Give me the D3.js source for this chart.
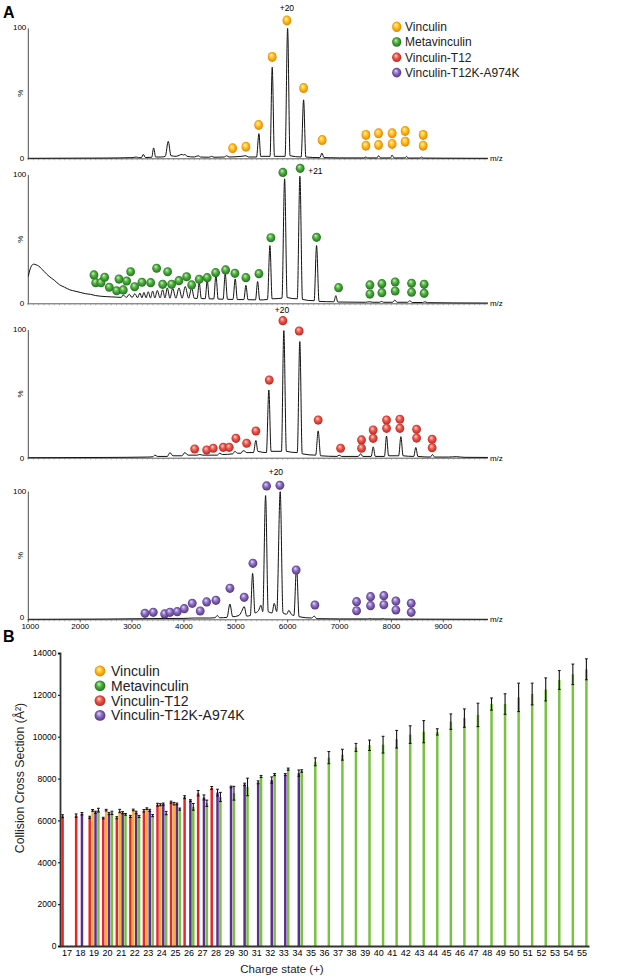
<!DOCTYPE html>
<html><head><meta charset="utf-8">
<script src="https://cdn.jsdelivr.net/npm/d3@7"></script>
<style>body{margin:0;background:#fff}svg{display:block;font-family:"Liberation Sans",Arial,sans-serif}</style>
</head><body><svg id="c" width="625" height="978"></svg>
<script>
// ---------------- DATA ----------------
const seriesNames = ['Vinculin','Metavinculin','Vinculin-T12','Vinculin-T12K-A974K'];
const mzTicks = [1000,2000,3000,4000,5000,6000,7000,8000,9000];
const chargeLabels = ['+20','+21','+20','+20'];

// spectra: [m/z, relative intensity %]
const specVinculin = [[1000,0],[2500,0.2],[3000,0.5],[3080,1],[3120,0.5],[3180,0.5],[3216,3],[3260,0.6],[3380,0.8],[3416,8],[3455,1],[3560,1],[3640,1.5],[3698,13],[3750,2],[3850,1.5],[3920,2.5],[3962,3],[3990,2.5],[4020,3],[4060,1.5],[4200,1],[4276,2],[4320,1],[4480,0.8],[4534,1.5],[4580,0.8],[4780,1],[4823,2],[4870,1],[5100,1.5],[5160,1.8],[5195,2],[5240,1],[5400,1],[5446,19],[5480,1.5],[5660,1.5],[5702,70],[5745,1.5],[5950,1.5],[5999,100],[6045,2],[6260,1],[6307,45],[6350,1],[6620,0.5],[6660,4],[6700,0.5],[7000,0.3],[7470,0.3],[7508,1],[7540,0.3],[7720,0.3],[7752,2],[7790,0.3],[7980,0.3],[8014,2.5],[8050,0.3],[8260,0.3],[8292,1.5],[8320,0.2],[8550,0.2],[8581,1],[8610,0.2],[9000,0.1],[9860,0]];
const specMeta = [[1000,21],[1030,26],[1060,29],[1100,30.5],[1150,30],[1200,29],[1300,25],[1400,21],[1500,18],[1600,14.5],[1700,12.5],[1800,10.5],[1900,9.5],[2000,8.5],[2100,7.5],[2200,7],[2300,6],[2400,5.5],[2500,5.2],[2600,5],[2700,4.8],[2790,4.6],[2831,6.5],[2890,4.5],[2946,7],[3000,4.5],[3056,7.5],[3105,4.3],[3152,8],[3190,4.3],[3230,8.5],[3270,4.3],[3312,9],[3355,4.2],[3397,9.5],[3440,4.2],[3486,10],[3540,4.2],[3590,10.5],[3635,4.2],[3679,12],[3730,4],[3783,11.5],[3845,4],[3904,12],[3965,4],[4025,13],[4090,4],[4149,12],[4200,3.9],[4255,3.8],[4295,16],[4335,3.7],[4410,3.6],[4449,18],[4490,3.5],[4575,3.4],[4617,22],[4660,3.3],[4755,3.2],[4796,23],[4840,3.1],[4945,3],[4989,19],[5030,2.9],[5155,2.9],[5195,14],[5235,2.8],[5380,2.7],[5421,17],[5460,2.6],[5610,3],[5658,45],[5700,3.5],[5890,4],[5941,97],[5990,4.5],[6185,3.5],[6236,99],[6285,3],[6510,2],[6557,45],[6605,1.5],[6890,1.2],[6929,6],[6965,1],[7500,0.8],[7571,1.2],[7640,0.8],[7770,0.8],[7810,1.5],[7850,0.8],[8020,0.8],[8066,2.5],[8110,0.8],[8310,0.8],[8355,2],[8400,0.6],[8600,0.6],[8644,1.2],[8690,0.5],[9200,0.3],[9860,0.2]];
const specT12 = [[1000,0],[2500,0.2],[3300,0.5],[3400,0.8],[3441,2],[3490,1],[3680,1],[3730,4],[3790,1.5],[3960,1.5],[4019,4],[4080,2],[4250,2],[4308,2.5],[4360,2],[4640,2],[4694,3.5],[4740,2.5],[4940,3],[4983,5],[5030,3.5],[5100,3.5],[5140,5.5],[5175,5],[5210,4],[5340,4],[5387,13.5],[5425,5],[5590,4],[5637,53],[5680,5],[5880,5],[5926,99.5],[5975,5],[6185,4],[6234,91],[6280,3],[6540,2],[6588,21],[6635,1.5],[6950,1],[6993,2],[7040,1],[7360,1],[7405,3],[7450,1],[7610,1],[7649,8.5],[7690,1],[7865,1],[7906,17],[7945,1.5],[8140,1.5],[8182,16.5],[8225,1.5],[8430,1],[8470,8],[8510,1],[8750,0.5],[8792,2.5],[8830,0.5],[9100,0.5],[9250,0.8],[9400,0.3],[9860,0.2]];
const specT12K = [[1000,0],[2500,0.2],[3000,0.4],[3500,0.6],[4000,0.7],[4200,1],[4500,1],[4600,1.2],[4643,3],[4690,1.2],[4830,1.5],[4886,12],[4940,2],[5060,3],[5110,6],[5162,10],[5210,2.5],[5280,3],[5324,36],[5370,5],[5440,7],[5484,11],[5520,6],[5574,97],[5625,6],[5700,5],[5740,12.5],[5790,6],[5856,100],[5910,5],[5980,4],[6023,7],[6070,4],[6120,3],[6171,41],[6220,2],[6460,1],[6511,2.5],[6560,0.5],[7000,0.3],[7540,0.3],[7584,0.6],[7620,0.3],[7800,0.3],[7835,0.6],[7870,0.3],[8000,0.2],[9860,0]];

// charge-state markers: [m/z, %]
const ballsVinculin = [[4939,7.7],[5195,8.9],[5440,25.6],[5702,78],[5985,106],[6307,54],[6665,14],[7508,18],[7508,9.7],[7752,19.2],[7752,10.2],[8014,19.2],[8014,11],[8265,21],[8265,12.8],[8612,18],[8612,9.7]];
const ballsMeta = [[2266,22.1],[2299,16.1],[2401,16.1],[2472,20.3],[2561,12.5],[2703,9.8],[2748,18.9],[2831,10.4],[2896,17.4],[2973,24.6],[3050,12.9],[3191,16.4],[3359,16.1],[3474,27.3],[3590,14.8],[3686,24.6],[3763,14.8],[3904,17.6],[4052,20.7],[4149,14.3],[4295,18.7],[4449,20],[4611,23.9],[4804,26],[4983,23.4],[5195,20],[5446,23.1],[5677,51.1],[5908,102],[6241,105.2],[6557,51.4],[6981,12.2],[7585,14.3],[7585,7.2],[7816,15.3],[7816,8.3],[8072,16.6],[8072,9.6],[8388,15.6],[8388,8.6],[8631,14.8],[8631,7.8]];
const ballsT12 = [[4207,6.8],[4438,6],[4565,7.4],[4758,8.1],[4873,8.1],[5002,15.2],[5209,11.3],[5388,20.9],[5644,60.8],[5908,107.3],[6222,99.2],[6588,29.5],[7020,7.4],[7424,13.9],[7424,7.4],[7648,21.7],[7648,15.2],[7906,29.5],[7906,23],[8163,30.1],[8163,23],[8485,22.2],[8485,15.4],[8785,14.4],[8785,7.8]];
const ballsT12K = [[3249,4.7],[3409,5.5],[3628,4.2],[3731,5.5],[3871,6],[4006,8.3],[4160,12.5],[4314,6.5],[4438,13.6],[4617,14.9],[4887,24.3],[5162,17.2],[5330,43.9],[5594,104.5],[5850,105],[6164,38.6],[6525,11.2],[7328,13.8],[7328,6.7],[7598,17.7],[7598,10.7],[7854,18.5],[7854,11.4],[8086,14.3],[8086,7.3],[8381,12.5],[8381,5.5]];

// panel B: collision cross sections (Å²) by charge state
const charges = d3.range(17,56).map(String);
const ccsT12   = [6200,6230,6150,6110,6130,6190,6460,6750,6870,7110,7300,7550];            // 17-28
const errT12   = [70,80,50,40,50,50,60,70,50,70,130,70];
const ccsVin   = [6480,6490,6450,6500,6560,6750,6800];                                    // 19-25
const errVin   = [40,40,80,40,40,50,60];
const ccsT12K  = [6320,6390,6330,6370,6380,6480,6780,6790,6950,7100,7330,7600,7720,7820,7930,8190,8260]; // 18-34
const errT12K  = [60,50,50,50,60,50,50,40,40,120,160,40,60,70,150,50,150];
const ccsMeta  = [6490,6360,6290,6190,6230,6350,6540,6650,6820,7120,7300,7600,8100,8190,8450,8360,8800,9000,9140,9490,9590,9620,9880,10100,10240,10230,10720,10890,11040,11560,11560,11880,12040,12260,12710,12980,13220]; // 19-55
const errMeta  = [90,80,40,50,50,80,50,160,150,220,330,420,50,50,50,60,190,290,260,190,250,400,420,420,530,150,370,440,560,290,490,680,520,550,450,490,500];
const ccsTicks = [0,2000,4000,6000,8000,10000,12000,14000];

// ---------------- DRAWING ----------------
const svg = d3.select('#c');
const defs = svg.append('defs');
const sphere = {
  orange:['#fff4b8','#ffc31f','#e07a00'],
  green:['#cdf2b8','#4fb140','#1c661c'],
  red:['#ffd6cf','#ee5a4f','#b21f19'],
  purple:['#e6dcf5','#8c70c2','#4a2b7e']
};
Object.entries(sphere).forEach(([k,c])=>{
  const g = defs.append('radialGradient').attr('id','g-'+k).attr('cx','50%').attr('cy','50%').attr('r','55%').attr('fx','38%').attr('fy','30%');
  g.append('stop').attr('offset','0%').attr('stop-color',c[0]);
  g.append('stop').attr('offset','45%').attr('stop-color',c[1]);
  g.append('stop').attr('offset','100%').attr('stop-color',c[2]);
});
const seriesSphere = ['orange','green','red','purple'];

svg.append('text').attr('x',3).attr('y',18).attr('font-size',16).attr('font-weight','bold').text('A');
svg.append('text').attr('x',3).attr('y',642).attr('font-size',16).attr('font-weight','bold').text('B');

const x = d3.scaleLinear().domain([1000,9000]).range([28.3,443.3]);
const mzEnd = 9860;
const panels = [
  {spec:specVinculin, balls:ballsVinculin, col:'orange', top:28.3, base:158.3, lab:chargeLabels[0], labIdx:4, ldx:0, ldy:-10, anchor:'middle'},
  {spec:specMeta, balls:ballsMeta, col:'green', top:175, base:303.3, lab:chargeLabels[1], labIdx:29, ldx:8, ldy:6, anchor:'start'},
  {spec:specT12, balls:ballsT12, col:'red', top:330, base:457.7, lab:chargeLabels[2], labIdx:9, ldx:-1, ldy:-8, anchor:'middle'},
  {spec:specT12K, balls:ballsT12K, col:'purple', top:491.7, base:619.3, lab:chargeLabels[3], labIdx:14, ldx:-4, ldy:-10, anchor:'middle'}
];
panels.forEach((p,pi)=>{
  const y = d3.scaleLinear().domain([0,100]).range([p.base,p.top]);
  const g = svg.append('g');
  // baseline axis with minor ticks
  g.append('line').attr('x1',x(1000)-1).attr('x2',x(mzEnd)).attr('y1',p.base+0.5).attr('y2',p.base+0.5).attr('stroke','#333').attr('stroke-width',0.8);
  g.selectAll('line.mt').data(d3.range(1000,mzEnd,100)).join('line').attr('class','mt')
    .attr('x1',d=>x(d)).attr('x2',d=>x(d)).attr('y1',p.base+0.5).attr('y2',p.base+2)
    .attr('stroke','#777').attr('stroke-width',0.5);
  // y axis
  g.append('line').attr('x1',x(1000)).attr('x2',x(1000)).attr('y1',p.base).attr('y2',y(100)).attr('stroke','#222').attr('stroke-width',0.8);
  g.append('text').attr('x',x(1000)-2).attr('y',y(100)+2).attr('text-anchor','end').attr('font-size',8).text('100');
  g.append('text').attr('x',x(1000)-4).attr('y',p.base+(pi===3?1:3)).attr('text-anchor','end').attr('font-size',8).text('0');
  g.append('text').attr('transform',`translate(${x(1000)-5},${y(50)}) rotate(-90)`).attr('text-anchor','middle').attr('font-size',8).text('%');
  g.append('text').attr('x',x(mzEnd)+2).attr('y',p.base+3).attr('font-size',8).text('m/z');
  // spectrum
  const line = d3.line().x(d=>x(d[0])).y(d=>y(d[1])).curve(d3.curveMonotoneX);
  g.append('path').datum(p.spec).attr('d',line).attr('fill','none').attr('stroke','#111').attr('stroke-width',1);
  // markers
  g.selectAll('ellipse').data(p.balls).join('ellipse')
    .attr('cx',d=>x(d[0])).attr('cy',d=>y(d[1]))
    .attr('rx',4.4).attr('ry',p.col==='orange'?5:4.6)
    .attr('fill',`url(#g-${p.col})`);
  const lb = p.balls[p.labIdx];
  g.append('text').attr('x',x(lb[0])+p.ldx).attr('y',y(lb[1])+p.ldy).attr('text-anchor',p.anchor).attr('font-size',8.5).text(p.lab);
  if(pi===3){
    g.selectAll('line.MT').data(mzTicks).join('line').attr('class','MT')
      .attr('x1',d=>x(d)).attr('x2',d=>x(d)).attr('y1',p.base+0.5).attr('y2',p.base+3).attr('stroke','#333').attr('stroke-width',0.7);
    g.selectAll('text.tl').data(mzTicks).join('text').attr('class','tl')
      .attr('x',d=>x(d)+(d===1000?2:0)).attr('y',p.base+10).attr('text-anchor','middle').attr('font-size',8).text(d=>d);
  }
});
// legend A
seriesNames.forEach((n,i)=>{
  const cy = 26.7 + i*15.3;
  svg.append('ellipse').attr('cx',396.7).attr('cy',cy).attr('rx',4.6).attr('ry',i===0?5.2:4.8).attr('fill',`url(#g-${seriesSphere[i]})`);
  svg.append('text').attr('x',405).attr('y',cy).attr('dy','0.36em').attr('font-size',12).attr('fill','#222').text(n);
});

// ---------------- PANEL B ----------------
const yB = d3.scaleLinear().domain([0,14000]).range([946,653]);
const xB = d3.scaleBand().domain(charges).range([60,589]).paddingInner(0.175).paddingOuter(0.1);
const slotOrder = ['T12','Vin','T12K','Meta'];
const xs = d3.scaleBand().domain(slotOrder).range([0,xB.bandwidth()]).paddingInner(0.14);
const barSeries = [
  {key:'T12', start:17, v:ccsT12, e:errT12, color:'#e8262a'},
  {key:'Vin', start:19, v:ccsVin, e:errVin, color:'#fbb034'},
  {key:'T12K', start:18, v:ccsT12K, e:errT12K, color:'#5c2d91'},
  {key:'Meta', start:19, v:ccsMeta, e:errMeta, color:'#7ac143'}
];
const gB = svg.append('g');
barSeries.forEach(s=>{
  const data = s.v.map((v,i)=>({c:String(s.start+i), v, e:s.e[i]}));
  const gs = gB.append('g');
  gs.selectAll('rect').data(data).join('rect')
    .attr('x',d=>xB(d.c)+xs(s.key)).attr('width',xs.bandwidth())
    .attr('y',d=>yB(d.v)).attr('height',d=>yB(0)-yB(d.v)).attr('fill',s.color);
  const cx = d=>xB(d.c)+xs(s.key)+xs.bandwidth()/2;
  gs.selectAll('line.eb').data(data).join('line').attr('class','eb')
    .attr('x1',cx).attr('x2',cx).attr('y1',d=>yB(d.v-d.e)).attr('y2',d=>yB(d.v+d.e)).attr('stroke','#111').attr('stroke-width',1.1);
  ['+','-'].forEach(sg=>{
    gs.selectAll('line.cap'+(sg==='+'?'p':'m')).data(data).join('line').attr('class','cap'+(sg==='+'?'p':'m'))
      .attr('x1',d=>cx(d)-1.4).attr('x2',d=>cx(d)+1.4)
      .attr('y1',d=>yB(sg==='+'?d.v+d.e:d.v-d.e)).attr('y2',d=>yB(sg==='+'?d.v+d.e:d.v-d.e))
      .attr('stroke','#111').attr('stroke-width',1);
  });
});
// axes
const ya = gB.append('g').attr('transform','translate(60,0)')
  .call(d3.axisLeft(yB).tickValues(ccsTicks).tickSize(2).tickPadding(1.5).tickFormat(d3.format('d')));
ya.select('.domain').attr('stroke','#333').attr('stroke-width',1.8);
ya.selectAll('text').attr('font-size',8.5).attr('font-family','"Liberation Sans",Arial,sans-serif');
const xa = gB.append('g').attr('transform','translate(0,946)')
  .call(d3.axisBottom(xB).tickSize(0).tickPadding(3.5));
xa.select('.domain').attr('stroke','#333').attr('stroke-width',1.8);
xa.selectAll('text').attr('font-size',9).attr('font-family','"Liberation Sans",Arial,sans-serif');
svg.append('text').attr('transform','translate(24,778) rotate(-90)').attr('text-anchor','middle').attr('font-size',12.3).attr('fill','#222').text('Collision Cross Section (Å²)');
svg.append('text').attr('x',282).attr('y',973).attr('text-anchor','middle').attr('font-size',11.5).attr('fill','#222').text('Charge state (+)');
// legend B
seriesNames.forEach((n,i)=>{
  const cy = 671 + i*14.8;
  svg.append('circle').attr('cx',100).attr('cy',cy).attr('r',5.4).attr('fill',`url(#g-${seriesSphere[i]})`);
  svg.append('text').attr('x',111).attr('y',cy).attr('dy','0.36em').attr('font-size',14).attr('fill','#222').text(n);
});
</script></body></html>
